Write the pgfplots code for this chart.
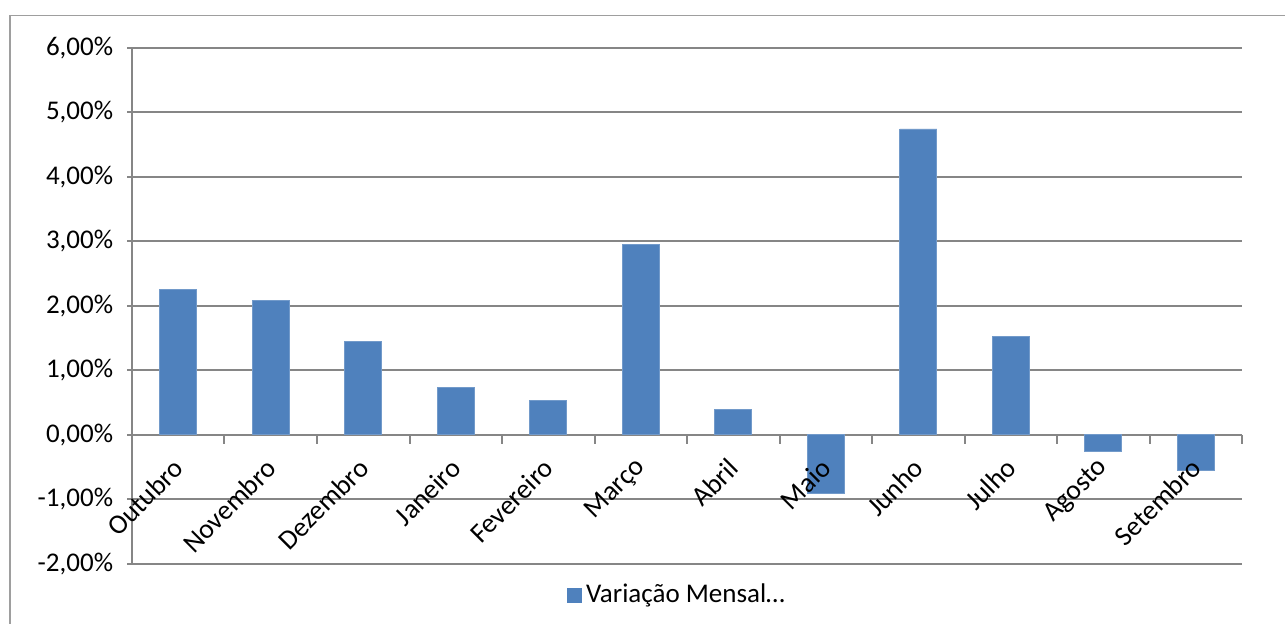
\documentclass[border=0pt]{standalone}
\usepackage{pgfplots}
\pgfplotsset{compat=1.18}
\usepackage{fontspec}
\setmainfont{Carlito}
\definecolor{barblue}{HTML}{4F81BD}
\definecolor{gridgray}{HTML}{868686}
\pgfplotsset{
  common/.style={
    at={(0pt,0pt)}, anchor=south west,
    scale only axis, width=555pt, height=258.2pt,
    xmin=-0.5, xmax=11.5, ymin=-2, ymax=6,
    axis x line=middle,
    xtick={0,...,11},
    tick align=outside, major tick length=4.5pt, minor tick length=4.5pt,
    xticklabel style={yshift=-9.7pt, xshift=0.3pt, rotate=45, anchor=east, font=\fontsize{13.8}{16}\selectfont, inner sep=0pt},
    clip=false,
  },
}
\begin{document}
\begin{tikzpicture}
\path[use as bounding box] (-66pt,-30pt) rectangle (576.5pt,282pt);
\draw[gridgray!80, line width=0.8pt] (-61pt,-40pt) -- (-61pt,274.2pt) -- (590pt,274.2pt);
\begin{axis}[
  common,
  axis y line=left,
  x axis line style={-, gridgray, line width=1pt},
  y axis line style={-, gridgray, line width=1pt},
  ytick={-2,-1,0,1,2,3,4,5,6},
  yticklabels={{-2,00\%},{-1,00\%},{0,00\%},{1,00\%},{2,00\%},{3,00\%},{4,00\%},{5,00\%},{6,00\%}},
  ymajorgrids, grid style={gridgray, line width=1pt},
  xticklabels={},
  minor xtick={-0.5,0.5,...,11.5},
  major x tick style={draw=none},
  minor x tick style={gridgray, line width=1pt},
  major y tick style={gridgray, line width=1pt},
  yticklabel style={font=\fontsize{13.5}{16}\selectfont, inner sep=0pt, xshift=-7pt},
  ybar, bar width=0.4,
  legend style={at={(0.492,-0.06)}, anchor=center, draw=none, font=\fontsize{13.5}{16}\selectfont, inner sep=0pt, nodes={inner xsep=2pt}},
  legend image code/.code={\fill[barblue] (0pt,-3.5pt) rectangle (7pt,3.5pt);},
]
\addplot[fill=barblue, draw=barblue!80!white, line width=0.4pt] coordinates {
(0,2.26) (1,2.08) (2,1.45) (3,0.74) (4,0.53) (5,2.95)
(6,0.40) (7,-0.90) (8,4.74) (9,1.53) (10,-0.25) (11,-0.55)};
\addlegendentry{Variação Mensal…}
\end{axis}
\begin{axis}[
  common,
  axis y line=none,
  x axis line style={draw=none},
  major x tick style={draw=none},
  ytick=\empty,
  xticklabels={Outubro,Novembro,Dezembro,Janeiro,Fevereiro,Março,Abril,Maio,Junho,Julho,Agosto,Setembro},
]
\end{axis}
\end{tikzpicture}
\end{document}
